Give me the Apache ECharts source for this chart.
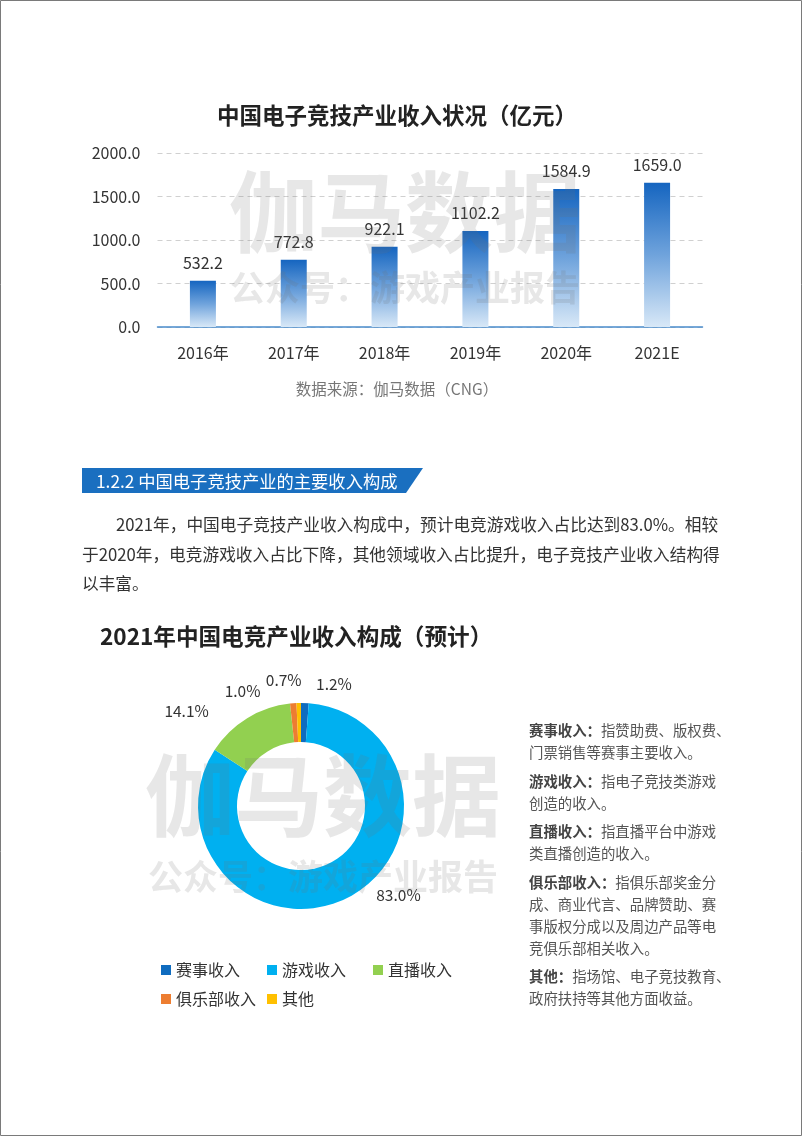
<!DOCTYPE html>
<html>
<head>
<meta charset="utf-8">
<script src="https://cdn.jsdelivr.net/npm/echarts@6/dist/echarts.min.js"></script>
<style>
  html, body { margin: 0; padding: 0; background: #fff; }
  #main { width: 802px; height: 1136px; }
</style>
</head>
<body>
<div id="main"></div>
<script>
// 柱状图数据
var years = ['2016年', '2017年', '2018年', '2019年', '2020年', '2021E']
var income = [532.2, 772.8, 922.1, 1102.2, 1584.9, 1659.0]
// 环形图数据
var partNames = ['赛事收入', '游戏收入', '直播收入', '俱乐部收入', '其他']
var partValues = [1.2, 83.0, 14.1, 1.0, 0.7]
var partColors = ['#0f6cbf', '#00b0f0', '#92d050', '#ed7d31', '#ffc000']
// 环形图标签微调（像素偏移）
var labelShift = [[2, -13], [18, -9], [-8, -21], [23, -23], [12, -17]]
// 右侧说明
var notes = [
  ['赛事收入：', '指赞助费、版权费、', '门票销售等赛事主要收入。'],
  ['游戏收入：', '指电子竞技类游戏', '创造的收入。'],
  ['直播收入：', '指直播平台中游戏', '类直播创造的收入。'],
  ['俱乐部收入：', '指俱乐部奖金分', '成、商业代言、品牌赞助、赛', '事版权分成以及周边产品等电', '竞俱乐部相关收入。'],
  ['其他：', '指场馆、电子竞技教育、', '政府扶持等其他方面收益。']
]
var para = [
  '2021年，中国电子竞技产业收入构成中，预计电竞游戏收入占比达到83.0%。相较',
  '于2020年，电竞游戏收入占比下降，其他领域收入占比提升，电子竞技产业收入结构得',
  '以丰富。'
]

var FONT = '"Noto Sans CJK SC", "Noto Sans", sans-serif'
var myChart = echarts.init(document.getElementById('main'))

var graphics = []
// 页面边框
graphics.push({
  type: 'rect', shape: { x: 0.5, y: 0.5, width: 801, height: 1135 },
  style: { fill: 'none', stroke: '#7a7a7a', lineWidth: 1 }, silent: true
})
// 标题
graphics.push({
  type: 'text', x: 397, y: 115,
  style: { text: '中国电子竞技产业收入状况（亿元）', font: 'bold 22.5px ' + FONT, fill: '#222', align: 'center', verticalAlign: 'middle' }
})
graphics.push({
  type: 'text', x: 397, y: 389,
  style: { text: '数据来源：伽马数据（CNG）', font: '15.5px ' + FONT, fill: '#777', align: 'center', verticalAlign: 'middle' }
})
// 小节标题
graphics.push({
  type: 'polygon',
  shape: { points: [[82, 468], [423, 468], [406, 493], [82, 493]] },
  style: { fill: '#1a6fc0' }
})
graphics.push({
  type: 'text', x: 96, y: 481,
  style: { text: '1.2.2 中国电子竞技产业的主要收入构成', font: '17.3px ' + FONT, fill: '#fff', verticalAlign: 'middle' }
})
// 正文
para.forEach(function (line, i) {
  graphics.push({
    type: 'text', x: i === 0 ? 116 : 82, y: 525 + i * 29.5,
    style: { text: line, font: '16.7px ' + FONT, fill: '#333', verticalAlign: 'middle' }
  })
})
graphics.push({
  type: 'text', x: 100, y: 636,
  style: { text: '2021年中国电竞产业收入构成（预计）', font: 'bold 22.6px ' + FONT, fill: '#222', verticalAlign: 'middle' }
})
// 右侧说明
var ny = 731
notes.forEach(function (n) {
  for (var k = 1; k < n.length; k++) {
    if (k === 1) {
      graphics.push({
        type: 'text', x: 529, y: ny,
        style: {
          text: '{b|' + n[0] + '}{n|' + n[1] + '}', verticalAlign: 'middle',
          rich: {
            b: { font: 'bold 14.4px ' + FONT, fill: '#444' },
            n: { font: '14.4px ' + FONT, fill: '#555' }
          }
        }
      })
    } else {
      graphics.push({
        type: 'text', x: 529, y: ny,
        style: { text: n[k], font: '14.4px ' + FONT, fill: '#555', verticalAlign: 'middle' }
      })
    }
    ny += 22
  }
  ny += 6.5
})
// 水印
function watermark(cx, y1, y2, s1, s2) {
  graphics.push({
    type: 'text', x: cx, y: y1, z: 100, silent: true,
    style: { text: '伽马数据', font: 'bold ' + s1 + 'px ' + FONT, fill: 'rgba(110,110,110,0.17)', align: 'center', verticalAlign: 'middle' }
  })
  graphics.push({
    type: 'text', x: cx, y: y2, z: 100, silent: true,
    style: { text: '公众号：游戏产业报告', font: 'bold ' + s2 + 'px ' + FONT, fill: 'rgba(110,110,110,0.17)', align: 'center', verticalAlign: 'middle' }
  })
}
watermark(405, 212, 288, 88, 35)
watermark(323, 795, 877, 89, 35)

var legendText = { color: '#333', fontSize: 16, fontFamily: FONT }
var option = {
  animation: false,
  textStyle: { fontFamily: FONT },
  grid: { left: 157.5, top: 153, width: 545, height: 174, containLabel: false },
  xAxis: {
    type: 'category',
    data: years,
    axisLine: { lineStyle: { color: '#4a8ccc', width: 1.5 } },
    axisTick: { show: false },
    axisLabel: { color: '#333', fontSize: 16, margin: 18 }
  },
  yAxis: {
    type: 'value',
    min: 0, max: 2000, interval: 500,
    axisLine: { show: false },
    axisTick: { show: false },
    axisLabel: { color: '#333', fontSize: 16, margin: 17, formatter: function (v) { return v.toFixed(1) } },
    splitLine: { lineStyle: { color: '#d0d0d0', type: [5, 4] } }
  },
  legend: [
    {
      data: partNames.slice(0, 3), left: 156, top: 957, icon: 'rect',
      itemWidth: 10, itemHeight: 10, itemGap: 27, textStyle: legendText
    },
    {
      data: partNames.slice(3), left: 156, top: 986, icon: 'rect',
      itemWidth: 10, itemHeight: 10, itemGap: 11, textStyle: legendText
    }
  ],
  series: [
    {
      type: 'bar',
      data: income,
      barWidth: 26,
      itemStyle: {
        color: new echarts.graphic.LinearGradient(0, 0, 0, 1, [
          { offset: 0, color: '#1565c0' },
          { offset: 0.5, color: '#6fa3dc' },
          { offset: 1, color: '#d8e8f7' }
        ])
      },
      label: {
        show: true, position: 'top', distance: 10, color: '#333', fontSize: 16,
        formatter: function (p) { return p.value.toFixed(1) }
      }
    },
    {
      type: 'pie',
      center: [301, 806],
      radius: [64, 103],
      startAngle: 90,
      clockwise: true,
      data: partNames.map(function (n, i) {
        return { name: n, value: partValues[i], itemStyle: { color: partColors[i] } }
      }),
      label: {
        show: true, position: 'outside', color: '#333', fontSize: 15.5,
        formatter: function (p) { return p.value.toFixed(1) + '%' }
      },
      labelLine: { show: false, length: 6, length2: 4 },
      labelLayout: function (p) {
        return { dx: labelShift[p.dataIndex][0], dy: labelShift[p.dataIndex][1] }
      },
      emphasis: { disabled: true }
    }
  ],
  graphic: graphics
}
myChart.setOption(option)
</script>
</body>
</html>
